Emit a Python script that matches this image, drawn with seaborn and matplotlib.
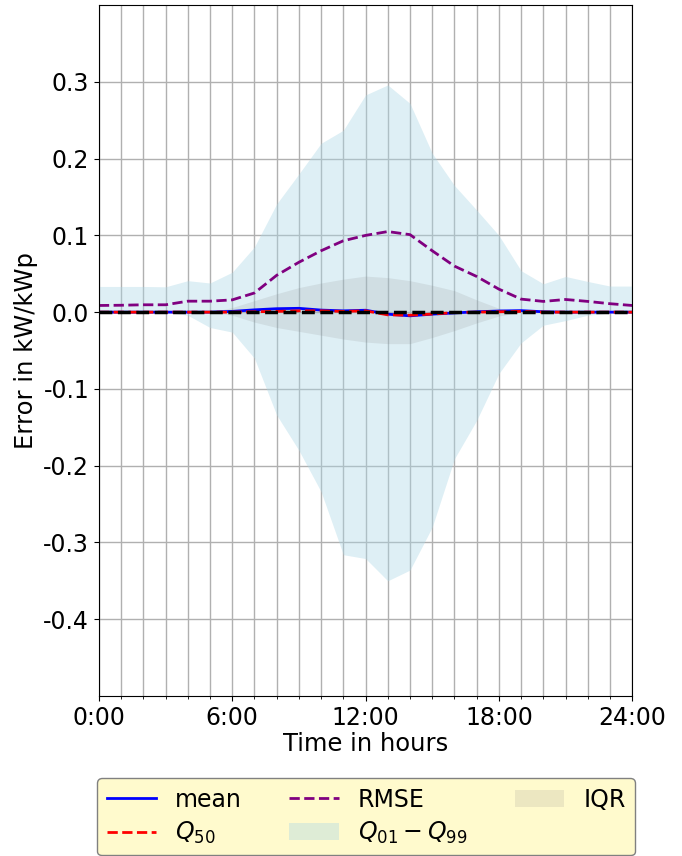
import matplotlib
matplotlib.use('Agg')
import matplotlib.pyplot as plt
import numpy as np
import seaborn as sns
from matplotlib.ticker import FormatStrFormatter

# Hourly error statistics
hours = list(range(25))
q99 = [0.0335, 0.0335, 0.0335, 0.033, 0.041, 0.038, 0.052, 0.085, 0.141, 0.180, 0.220, 0.237,
       0.283, 0.296, 0.272, 0.207, 0.165, 0.133, 0.100, 0.054, 0.037, 0.0465, 0.040, 0.034, 0.034]
q01 = [0.0, 0.0, 0.0, 0.0, -0.004, -0.020, -0.026, -0.060, -0.134, -0.180, -0.234, -0.316,
       -0.321, -0.350, -0.336, -0.280, -0.191, -0.141, -0.080, -0.040, -0.017, -0.011, -0.004, -0.001, 0.0]
q75 = [0.0, 0.0, 0.0, 0.0, 0.0, 0.0, 0.006, 0.015, 0.024, 0.032, 0.038, 0.043,
       0.047, 0.045, 0.041, 0.035, 0.028, 0.016, 0.005, 0.0, 0.0, 0.0, 0.0, 0.0, 0.0]
q25 = [0.0, 0.0, 0.0, 0.0, 0.0, 0.0, -0.004, -0.013, -0.020, -0.025, -0.030, -0.035,
       -0.039, -0.041, -0.041, -0.033, -0.024, -0.014, -0.005, 0.0, 0.0, 0.0, 0.0, 0.0, 0.0]
rmse = [0.0087, 0.009, 0.0096, 0.0096, 0.0143, 0.0143, 0.016, 0.025, 0.048, 0.065, 0.080, 0.093,
        0.100, 0.105, 0.101, 0.080, 0.060, 0.0465, 0.030, 0.017, 0.014, 0.0165, 0.014, 0.011, 0.0087]
mean = [0.0, 0.0, 0.0, 0.0, 0.0, 0.0, 0.001, 0.003, 0.0045, 0.005, 0.0027, 0.0017,
        0.0025, -0.0026, -0.0048, -0.0026, -0.001, 0.0005, 0.0015, 0.002, 0.0005, 0.0, 0.0, 0.0, 0.0]
q50 = [0.0, 0.0, 0.0, 0.0, 0.0, 0.0, 0.0, 0.0005, 0.001, 0.0017, 0.0017, 0.001,
       0.0017, -0.0035, -0.004, -0.0025, -0.0005, 0.0, 0.0005, 0.001, 0.0, 0.0, 0.0, 0.0, 0.0]

xtick_pos = [0, 6, 12, 18, 24]
xtick_labels = ['0:00', '6:00', '12:00', '18:00', '24:00']
ytick_pos = [-0.4, -0.3, -0.2, -0.1, 0.0, 0.1, 0.2, 0.3]

plt.rcParams['axes.unicode_minus'] = False
plt.rcParams['font.size'] = 17

fig = plt.figure(figsize=(6.82, 8.56), dpi=100)
ax = fig.add_axes([0.145, 0.187, 0.782, 0.807])

# Lines
sns.lineplot(x=hours, y=mean, color='blue', linewidth=2, label='mean', ax=ax)
sns.lineplot(x=hours, y=q50, color='red', linewidth=2, linestyle='--', label='$Q_{50}$', ax=ax)
sns.lineplot(x=hours, y=rmse, color='purple', linewidth=2, linestyle='--', label='RMSE', ax=ax)

# Bands
ax.fill_between(hours, q01, q99, color='lightblue', alpha=0.4, linewidth=0, label='$Q_{01}-Q_{99}$')
ax.fill_between(hours, q25, q75, color='grey', alpha=0.15, linewidth=0, label='IQR')

# Zero line
ax.axhline(0, color='black', linestyle='--', linewidth=2.5)

# Axes, ticks and grid
ax.set_xlim(0, 24)
ax.set_ylim(-0.5, 0.4)
ax.set_xticks(xtick_pos)
ax.set_xticklabels(xtick_labels)
ax.set_xticks(hours, minor=True)
ax.set_yticks(ytick_pos)
ax.yaxis.set_major_formatter(FormatStrFormatter('%.1f'))
ax.tick_params(labelsize=17)
ax.grid(True, which='major', axis='y', color='#b0b0b0', linewidth=1)
ax.grid(True, which='both', axis='x', color='#b0b0b0', linewidth=1)
ax.set_axisbelow(True)

ax.set_xlabel('Time in hours', fontsize=17.5, labelpad=2)
ax.set_ylabel('Error in kW/kWp', fontsize=17.5)

# Legend below the plot
ax.legend(loc='upper center', bbox_to_anchor=(0.537, 0.091), bbox_transform=fig.transFigure,
          borderaxespad=0, ncol=3, facecolor='lemonchiffon', framealpha=1, edgecolor='grey',
          fontsize=17, columnspacing=2.0, handlelength=2.1, labelspacing=0.35)

fig.savefig('out.png', dpi=100)
